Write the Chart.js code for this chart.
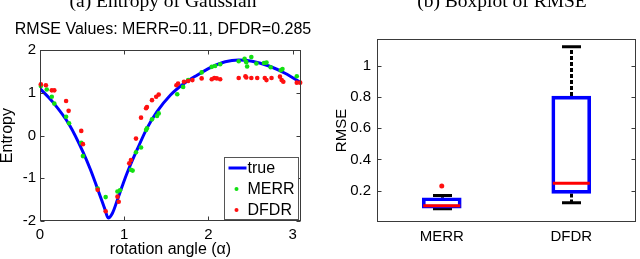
<!DOCTYPE html>
<html>
<head>
<meta charset="utf-8">
<script src="https://cdn.jsdelivr.net/npm/chart.js@4.4.1/dist/chart.umd.min.js"></script>
<style>
html,body{margin:0;padding:0;background:#fff;}
body{width:640px;height:259px;position:relative;overflow:hidden;}
.cap{position:absolute;top:-9px;font-family:"Liberation Serif","Times New Roman",serif;font-size:19.5px;line-height:20px;white-space:nowrap;transform:translateX(-50%);color:#000;}
#wa{position:absolute;left:0;top:0;width:326px;height:259px;}
#wb{position:absolute;left:320px;top:0;width:320px;height:259px;}
</style>
</head>
<body>
<div id="wa"><canvas id="entropyChart" width="326" height="259"></canvas></div>
<div id="wb"><canvas id="rmseChart" width="320" height="259"></canvas></div>
<div class="cap" style="left:163px">(a) Entropy of Gaussian</div>
<div class="cap" style="left:502px">(b) Boxplot of RMSE</div>
<script>
// left panel: entropy vs rotation angle
const angle = [0, 0.15, 0.35, 0.51, 0.6, 0.71, 0.77, 0.81, 0.86, 0.92, 0.99, 1.05, 1.16, 1.27, 1.39, 1.55, 1.71, 1.87, 2.03, 2.2, 2.36, 2.52, 2.72, 2.91, 3.1];
const entropyTrue = [1.1, 0.79, 0.25, -0.38, -0.8, -1.39, -1.72, -1.93, -1.82, -1.5, -1.11, -0.8, -0.3, 0.17, 0.56, 0.95, 1.22, 1.42, 1.6, 1.73, 1.77, 1.74, 1.63, 1.46, 1.24];

const merrAngle = [0.01, 0.08, 0.14, 0.17, 0.31, 0.345, 0.49, 0.51, 0.685, 0.78, 0.92, 0.95, 1.08, 1.1, 1.14, 1.2, 1.26, 1.27, 1.33, 1.39, 1.41, 1.63, 1.7, 1.76, 1.92, 2.04, 2.08, 2.14, 2.36, 2.43, 2.45, 2.46, 2.51, 2.57, 2.66, 2.69, 2.74, 2.86, 2.88, 3.05];
const merrEntropy = [1.16, 1.08, 0.91, 0.75, 0.44, 0.29, -0.17, -0.48, -1.24, -1.44, -1.31, -1.28, -0.8, -0.82, -0.39, -0.28, 0.13, 0.17, 0.38, 0.46, 0.52, 0.97, 1.14, 1.3, 1.48, 1.61, 1.63, 1.67, 1.74, 1.8, 1.72, 1.62, 1.84, 1.69, 1.7, 1.71, 1.6, 1.53, 1.56, 1.39];

const dfdrAngle = [0.01, 0.07, 0.14, 0.17, 0.31, 0.34, 0.49, 0.51, 0.685, 0.78, 0.92, 0.935, 1.06, 1.08, 1.14, 1.2, 1.26, 1.27, 1.33, 1.38, 1.41, 1.62, 1.64, 1.71, 1.76, 1.81, 1.92, 2.04, 2.07, 2.1, 2.14, 2.36, 2.44, 2.45, 2.51, 2.58, 2.67, 2.69, 2.75, 2.85, 2.87, 2.89, 3.05, 3.09];
const dfdrEntropy = [1.2, 1.18, 1.06, 1.06, 0.81, 0.58, 0.11, -0.2, -1.27, -1.77, -1.43, -1.55, -0.65, -0.57, -0.07, 0.42, 0.64, 0.67, 0.83, 0.91, 0.96, 1.18, 1.22, 1.26, 1.28, 1.3, 1.34, 1.32, 1.35, 1.34, 1.32, 1.35, 1.39, 1.36, 1.35, 1.35, 1.35, 1.3, 1.35, 1.38, 1.3, 1.26, 1.24, 1.24];

const angleTicks = [0, 1, 2, 3];
const entropyTicks = [-2, -1, 0, 1, 2];

// right panel: boxplot of RMSE
const methods = ['MERR', 'DFDR'];
const boxLow = [0.089, 0.183];
const boxHigh = [0.155, 0.805];
const median = [0.104, 0.247];
const whiskerLow = [0.085, 0.123];
const whiskerHigh = [0.17, 1.12];
const outlier = [0.23, null];
const rmseTicks = [0.2, 0.4, 0.6, 0.8, 1];

const FONT = "'Liberation Sans', Arial, sans-serif";
const AXIS = '#3a3a3a';

function toPoints(xs, ys){
return xs.map((v, i) => ({x: v, y: ys[i]}));
}

// matlab style box round the plot with inward ticks
const frameTicks = {
id: 'frameTicks',
afterDraw(chart, args, opts){
const {ctx, chartArea: a, scales} = chart;
const L = 4;
const l = Math.round(a.left) + 0.5, r = Math.round(a.right) - 0.5;
const t = Math.round(a.top) + 0.5, b = Math.round(a.bottom) - 0.5;
ctx.save();
ctx.strokeStyle = AXIS;
ctx.lineWidth = 1;
ctx.strokeRect(l, t, r - l, b - t);
ctx.beginPath();
scales.y.ticks.forEach(tk => {
const py = Math.round(scales.y.getPixelForValue(tk.value)) + 0.5;
ctx.moveTo(l, py); ctx.lineTo(l + L, py);
ctx.moveTo(r, py); ctx.lineTo(r - L, py);
});
if(opts.xTicks){
scales.x.ticks.forEach(tk => {
const px = Math.round(scales.x.getPixelForValue(tk.value)) + 0.5;
ctx.moveTo(px, b); ctx.lineTo(px, b - L);
ctx.moveTo(px, t); ctx.lineTo(px, t + L);
});
}
ctx.stroke();
ctx.restore();
}
};

// legend box in the lower right corner of the plot
const cornerLegend = {
id: 'cornerLegend',
afterDraw(chart){
const {ctx, chartArea: a} = chart;
const w = 74, h = 62;
const left = Math.round(a.right) - 3 - w + 0.5;
const top = Math.round(a.bottom) - 2 - h + 0.5;
ctx.save();
ctx.fillStyle = '#fff';
ctx.fillRect(left, top, w, h);
ctx.strokeStyle = '#555';
ctx.lineWidth = 1;
ctx.strokeRect(left, top, w, h);
ctx.font = '16px ' + FONT;
ctx.textBaseline = 'middle';
chart.data.datasets.forEach((ds, i) => {
const cy = top + 10.5 + i * 21;
if(ds.showLine){
ctx.strokeStyle = ds.borderColor;
ctx.lineWidth = 3;
ctx.beginPath();
ctx.moveTo(left + 4, cy); ctx.lineTo(left + 22, cy);
ctx.stroke();
}else{
ctx.fillStyle = ds.backgroundColor;
ctx.beginPath();
ctx.arc(left + 12, cy, 2, 0, Math.PI * 2);
ctx.fill();
}
ctx.fillStyle = '#000';
ctx.fillText(ds.label, left + 23, cy + 1);
});
ctx.restore();
}
};

new Chart(document.getElementById('entropyChart'), {
type: 'scatter',
data: {
datasets: [
{label: 'true', data: toPoints(angle, entropyTrue), showLine: true, borderColor: '#0000ff', backgroundColor: '#0000ff', borderWidth: 3, pointRadius: 0, cubicInterpolationMode: 'monotone', order: 3},
{label: 'MERR', data: toPoints(merrAngle, merrEntropy), showLine: false, backgroundColor: '#12e012', borderWidth: 0, pointRadius: 2.3, clip: false, order: 2},
{label: 'DFDR', data: toPoints(dfdrAngle, dfdrEntropy), showLine: false, backgroundColor: '#ff1010', borderWidth: 0, pointRadius: 2.3, clip: false, order: 1}
]
},
options: {
responsive: false,
devicePixelRatio: 1,
animation: false,
layout: {padding: {top: 16, right: 0, left: 0, bottom: 0}},
plugins: {
legend: {display: false},
tooltip: {enabled: false},
title: {display: true, text: 'RMSE Values: MERR=0.11, DFDR=0.285', color: '#000', font: {family: FONT, size: 16, weight: 'normal', lineHeight: 1.2}, padding: {top: 4, bottom: 11}},
frameTicks: {xTicks: true}
},
scales: {
x: {
type: 'linear', min: 0, max: 3.1,
afterBuildTicks: s => { s.ticks = angleTicks.map(v => ({value: v})); },
afterFit: s => { s.height = 38; },
grid: {display: false, drawTicks: false},
border: {display: false},
ticks: {color: '#000', font: {family: FONT, size: 15}, padding: 5, callback: v => String(v), maxRotation: 0},
title: {display: true, text: 'rotation angle (α)', color: '#000', font: {family: FONT, size: 16, lineHeight: 1.2}, padding: {top: 0, bottom: 0}}
},
y: {
min: -2, max: 2,
afterBuildTicks: s => { s.ticks = entropyTicks.map(v => ({value: v})); },
afterFit: s => { s.width = 40; },
grid: {display: false, drawTicks: false},
border: {display: false},
ticks: {color: '#000', font: {family: FONT, size: 15}, padding: 4, callback: v => String(v)},
title: {display: true, text: 'Entropy', color: '#000', font: {family: FONT, size: 16, lineHeight: 1}, padding: {top: 0, bottom: 0}}
},
y2: {
position: 'right', display: true,
afterFit: s => { s.width = 25; },
grid: {display: false, drawTicks: false},
border: {display: false},
ticks: {display: false}
}
}
},
plugins: [frameTicks, cornerLegend]
});

// whiskers, caps and medians for the boxplot
const boxParts = {
id: 'boxParts',
beforeDatasetsDraw(chart){
const {ctx, scales: {x, y}} = chart;
ctx.save();
ctx.strokeStyle = '#000';
ctx.lineWidth = 3;
methods.forEach((m, i) => {
const cx = Math.round(x.getPixelForValue(i)) + 0.5;
ctx.setLineDash([4, 2]);
ctx.beginPath();
ctx.moveTo(cx, y.getPixelForValue(boxHigh[i]));
ctx.lineTo(cx, y.getPixelForValue(whiskerHigh[i]));
ctx.moveTo(cx, y.getPixelForValue(boxLow[i]));
ctx.lineTo(cx, y.getPixelForValue(whiskerLow[i]));
ctx.stroke();
ctx.setLineDash([]);
ctx.beginPath();
[whiskerLow[i], whiskerHigh[i]].forEach(v => {
const py = y.getPixelForValue(v);
ctx.moveTo(cx - 9.5, py); ctx.lineTo(cx + 9.5, py);
});
ctx.stroke();
});
ctx.restore();
},
afterDatasetsDraw(chart){
const {ctx, scales: {x, y}} = chart;
const meta = chart.getDatasetMeta(0);
ctx.save();
ctx.strokeStyle = '#ff0000';
ctx.lineWidth = 3;
ctx.beginPath();
meta.data.forEach((bar, i) => {
const py = y.getPixelForValue(median[i]);
ctx.moveTo(bar.x - bar.width / 2 + 1, py);
ctx.lineTo(bar.x + bar.width / 2 - 1, py);
});
ctx.stroke();
ctx.restore();
}
};

new Chart(document.getElementById('rmseChart'), {
type: 'bar',
data: {
labels: methods,
datasets: [
{label: 'box', data: boxLow.map((v, i) => [v, boxHigh[i]]), backgroundColor: 'rgba(255,255,255,0)', borderColor: '#0000ff', borderWidth: 3, borderSkipped: false, barThickness: 39},
{type: 'line', label: 'outlier', data: outlier, showLine: false, pointRadius: 2.5, pointBackgroundColor: '#ff1010', pointBorderWidth: 0, borderColor: '#ff1010'}
]
},
options: {
responsive: false,
devicePixelRatio: 1,
animation: false,
layout: {padding: {top: 39, right: 4, left: 0, bottom: 0}},
plugins: {
legend: {display: false},
tooltip: {enabled: false},
frameTicks: {xTicks: false}
},
scales: {
x: {
afterFit: s => { s.height = 37; },
grid: {display: false, drawTicks: false},
border: {display: false},
ticks: {color: '#000', font: {family: FONT, size: 15}, padding: 6}
},
y: {
min: 0, max: 1.17,
afterBuildTicks: s => { s.ticks = rmseTicks.map(v => ({value: v})); },
afterFit: s => { s.width = 57; },
grid: {display: false, drawTicks: false},
border: {display: false},
ticks: {color: '#000', font: {family: FONT, size: 15}, padding: 6, callback: v => String(v)},
title: {display: true, text: 'RMSE', color: '#000', font: {family: FONT, size: 15, lineHeight: 1.2}, padding: {top: 13, bottom: 0}}
}
}
},
plugins: [boxParts, frameTicks]
});
</script>
</body>
</html>
